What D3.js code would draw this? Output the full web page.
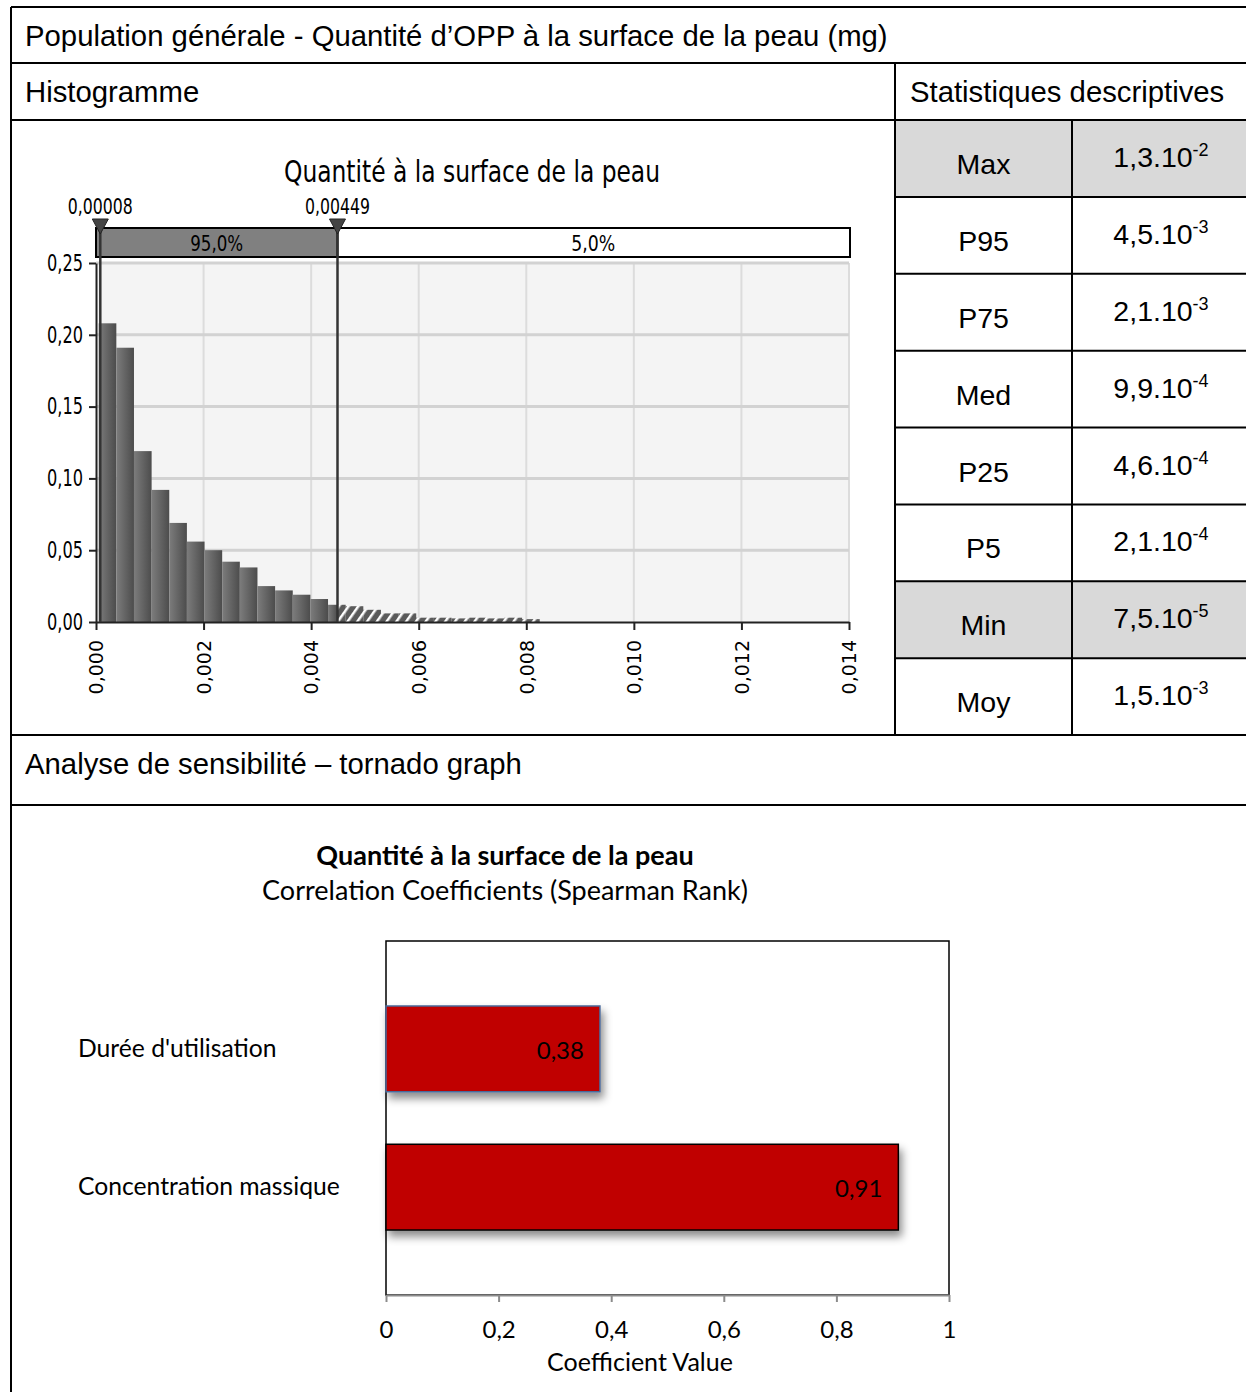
<!DOCTYPE html>
<html>
<head>
<meta charset="UTF-8">
<script src="https://cdn.jsdelivr.net/npm/d3@7"></script>
<style>
  body { margin: 0; background: #fff; }
  svg { display: block; }
  .sans { font-family: "Liberation Sans", Arial, sans-serif; }
  .narrow { font-family: "Liberation Sans Narrow", "DejaVu Sans Condensed", sans-serif; }
  .cal { font-family: Lato, "Open Sans", sans-serif; }
</style>
</head>
<body>
<svg id="chart" width="1246" height="1392"></svg>
<script>
// ---- histogram (relative frequency per bin)
var binStart = 0.00005;
var binWidth = 0.000328;
var binFreq = [0.208, 0.191, 0.119, 0.092, 0.069, 0.056, 0.050, 0.042, 0.038, 0.025,
               0.022, 0.019, 0.016, 0.012, 0.011, 0.0085, 0.006, 0.006, 0.003, 0.003,
               0.0025, 0.003, 0.0025, 0.003, 0.002];
var lowMark = 0.00008, highMark = 0.00449;
var bandLabels = ["95,0%", "5,0%"];
var histXTicks = [0, 0.002, 0.004, 0.006, 0.008, 0.010, 0.012, 0.014];
var histYTicks = [0, 0.05, 0.10, 0.15, 0.20, 0.25];

// ---- descriptive statistics
var statNames = ["Max", "P95", "P75", "Med", "P25", "P5", "Min", "Moy"];
var statMantissa = ["1,3", "4,5", "2,1", "9,9", "4,6", "2,1", "7,5", "1,5"];
var statExp = ["-2", "-3", "-3", "-4", "-4", "-4", "-5", "-3"];
var statShaded = ["Max", "Min"];

// ---- tornado
var tornadoVars = ["Durée d'utilisation", "Concentration massique"];
var tornadoCoefs = [0.38, 0.91];
var coefTicks = [0, 0.2, 0.4, 0.6, 0.8, 1];

var svg = d3.select("#chart");
var comma = function(f) { return function(d) { return d3.format(f)(d).replace(".", ","); }; };

// defs
var defs = svg.append("defs");
var grad = defs.append("linearGradient").attr("id", "barGrad")
  .attr("x1", "0").attr("x2", "1").attr("y1", "0").attr("y2", "0");
grad.append("stop").attr("offset", "0").attr("stop-color", "#7c7c7c");
grad.append("stop").attr("offset", "1").attr("stop-color", "#4c4c4c");
var pat = defs.append("pattern").attr("id", "hatch").attr("patternUnits", "userSpaceOnUse")
  .attr("width", 8).attr("height", 8).attr("patternTransform", "rotate(35)");
pat.append("rect").attr("width", 8).attr("height", 8).attr("fill", "#5a5a5a");
pat.append("rect").attr("x", 0).attr("width", 2.5).attr("height", 8).attr("fill", "#ffffff");
var shadow = defs.append("filter").attr("id", "shadow")
  .attr("x", "-10%").attr("y", "-20%").attr("width", "130%").attr("height", "160%");
shadow.append("feDropShadow").attr("dx", 3).attr("dy", 6).attr("stdDeviation", 4)
  .attr("flood-color", "#000").attr("flood-opacity", 0.45);

// ---- table frame
var statRowH = (735 - 120) / statNames.length;
statNames.forEach(function(n, i) {
  if (statShaded.indexOf(n) >= 0) {
    svg.append("rect").attr("x", 895).attr("y", 120 + i * statRowH)
      .attr("width", 351).attr("height", statRowH).attr("fill", "#d9d9d9");
  }
});
var frame = svg.append("g").attr("stroke", "#000").attr("stroke-width", 2);
[[11, 7, 1246, 7], [11, 63, 1246, 63], [11, 120, 1246, 120], [11, 735, 1246, 735],
 [11, 805, 1246, 805], [11, 7, 11, 1392], [895, 63, 895, 735], [1072, 120, 1072, 735]]
  .forEach(function(l) {
    frame.append("line").attr("x1", l[0]).attr("y1", l[1]).attr("x2", l[2]).attr("y2", l[3]);
  });
for (var i = 1; i < statNames.length; i++) {
  frame.append("line").attr("x1", 895).attr("x2", 1246)
    .attr("y1", 120 + i * statRowH).attr("y2", 120 + i * statRowH);
}

svg.append("text").attr("class", "sans").attr("x", 25).attr("y", 46).attr("font-size", 29.3)
  .text("Population générale - Quantité d’OPP à la surface de la peau (mg)");
svg.append("text").attr("class", "sans").attr("x", 25).attr("y", 102).attr("font-size", 29.3)
  .text("Histogramme");
svg.append("text").attr("class", "sans").attr("x", 910).attr("y", 102).attr("font-size", 29.3)
  .text("Statistiques descriptives");
svg.append("text").attr("class", "sans").attr("x", 25).attr("y", 774).attr("font-size", 29.3)
  .text("Analyse de sensibilité – tornado graph");

// stats
statNames.forEach(function(n, i) {
  var top = 120 + i * statRowH;
  svg.append("text").attr("class", "sans").attr("x", 983.5).attr("y", top + 54)
    .attr("text-anchor", "middle").attr("font-size", 28.5).text(n);
  var t = svg.append("text").attr("class", "sans").attr("x", 1161).attr("y", top + 47)
    .attr("text-anchor", "middle").attr("font-size", 28.5);
  t.append("tspan").text(statMantissa[i] + ".10");
  t.append("tspan").attr("dy", -11).attr("font-size", 18).text(statExp[i]);
});

// ---- histogram
var hx = d3.scaleLinear().domain([0, 0.014]).range([96, 849]);
var hy = d3.scaleLinear().domain([0, 0.25]).range([622, 263]);
var hg = svg.append("g");

hg.append("text").attr("class", "narrow").attr("x", 472).attr("y", 182)
  .attr("text-anchor", "middle").attr("font-size", 31)
  .attr("textLength", 376).attr("lengthAdjust", "spacingAndGlyphs")
  .text("Quantité à la surface de la peau");

hg.append("rect").attr("x", hx(0)).attr("y", hy(0.25)).attr("width", hx(0.014) - hx(0))
  .attr("height", hy(0) - hy(0.25)).attr("fill", "#f4f4f4");
hg.selectAll(".vgrid").data(histXTicks.slice(1)).enter().append("line")
  .attr("x1", hx).attr("x2", hx).attr("y1", hy(0.25)).attr("y2", hy(0))
  .attr("stroke", "#dcdcdc").attr("stroke-width", 2);
hg.selectAll(".hgrid").data(histYTicks.slice(1)).enter().append("line")
  .attr("x1", hx(0)).attr("x2", hx(0.014)).attr("y1", hy).attr("y2", hy)
  .attr("stroke", "#d2d2d2").attr("stroke-width", 3);

// bar segments: solid inside the 95% band, hatched beyond it
var segs = [];
binFreq.forEach(function(f, i) {
  var x0 = binStart + i * binWidth, x1 = x0 + binWidth;
  if (x1 <= highMark) segs.push({x0: x0, x1: x1, f: f, h: false});
  else if (x0 >= highMark) segs.push({x0: x0, x1: x1, f: f, h: true});
  else {
    segs.push({x0: x0, x1: highMark, f: f, h: false});
    segs.push({x0: highMark, x1: x1, f: f, h: true});
  }
});
hg.selectAll(".bar").data(segs).enter().append("rect")
  .attr("x", function(d) { return hx(d.x0); })
  .attr("width", function(d) { return hx(d.x1) - hx(d.x0); })
  .attr("y", function(d) { return hy(d.f); })
  .attr("height", function(d) { return hy(0) - hy(d.f); })
  .attr("fill", function(d) { return d.h ? "url(#hatch)" : "url(#barGrad)"; });

var yAx = hg.append("g").attr("transform", "translate(" + hx(0) + ",0)")
  .call(d3.axisLeft(hy).tickValues(histYTicks).tickFormat(comma(".2f")).tickSize(7).tickSizeOuter(0));
yAx.selectAll("text").attr("class", "narrow").attr("font-size", 23).attr("fill", "#000").attr("x", -13)
  .attr("textLength", 36).attr("lengthAdjust", "spacingAndGlyphs");
yAx.selectAll("line, path").attr("stroke", "#222").attr("stroke-width", 2);

var xAx = hg.append("g").attr("transform", "translate(0," + hy(0) + ")")
  .call(d3.axisBottom(hx).tickValues(histXTicks).tickFormat(comma(".3f")).tickSize(8).tickSizeOuter(0));
xAx.selectAll("text").attr("font-family", "DejaVu Sans, Verdana, sans-serif").attr("font-size", 19)
  .attr("fill", "#000").attr("transform", "rotate(-90)").attr("text-anchor", "end")
  .attr("x", -18).attr("y", 0).attr("dy", "0.36em");
xAx.selectAll("line, path").attr("stroke", "#222").attr("stroke-width", 2);

// 95% band above plot
var bandTop = 228, bandBot = 257;
hg.append("rect").attr("x", hx(0)).attr("y", bandTop).attr("width", hx(highMark) - hx(0))
  .attr("height", bandBot - bandTop).attr("fill", "#808080");
hg.append("rect").attr("x", hx(0)).attr("y", bandTop).attr("width", hx(0.014) - hx(0) + 1)
  .attr("height", bandBot - bandTop).attr("fill", "none").attr("stroke", "#000").attr("stroke-width", 2);
hg.append("line").attr("x1", hx(highMark)).attr("x2", hx(highMark)).attr("y1", bandTop).attr("y2", bandBot)
  .attr("stroke", "#000").attr("stroke-width", 2);
hg.append("text").attr("class", "narrow").attr("x", (hx(0) + hx(highMark)) / 2).attr("y", 251)
  .attr("text-anchor", "middle").attr("font-size", 22)
  .attr("textLength", 53).attr("lengthAdjust", "spacingAndGlyphs").text(bandLabels[0]);
hg.append("text").attr("class", "narrow").attr("x", (hx(highMark) + hx(0.014)) / 2).attr("y", 251)
  .attr("text-anchor", "middle").attr("font-size", 22)
  .attr("textLength", 44).attr("lengthAdjust", "spacingAndGlyphs").text(bandLabels[1]);

[lowMark, highMark].forEach(function(m) {
  hg.append("line").attr("x1", hx(m)).attr("x2", hx(m)).attr("y1", bandTop).attr("y2", hy(0))
    .attr("stroke", "#333").attr("stroke-width", 2.5);
  hg.append("path").attr("d", "M" + (hx(m) - 8) + ",219 L" + (hx(m) + 8) + ",219 L" + hx(m) + ",234 Z")
    .attr("fill", "#444").attr("stroke", "#222").attr("stroke-width", 1);
  hg.append("text").attr("class", "narrow").attr("x", hx(m)).attr("y", 214)
    .attr("text-anchor", "middle").attr("font-size", 22)
    .attr("textLength", 65).attr("lengthAdjust", "spacingAndGlyphs").text(comma(".5f")(m));
});

// ---- tornado
var tx = d3.scaleLinear().domain([0, 1]).range([386, 949]);
var ty = d3.scaleBand().domain(tornadoVars).range([941, 1295]).paddingInner(0.38).paddingOuter(0.47);
var tg = svg.append("g");

tg.append("text").attr("class", "cal").attr("x", 505).attr("y", 865).attr("text-anchor", "middle")
  .attr("font-size", 27).attr("font-weight", "bold").text("Quantité à la surface de la peau");
tg.append("text").attr("class", "cal").attr("x", 505).attr("y", 900).attr("text-anchor", "middle")
  .attr("font-size", 27).text("Correlation Coefficients (Spearman Rank)");

tg.append("rect").attr("x", tx(0)).attr("y", 941).attr("width", tx(1) - tx(0)).attr("height", 1295 - 941)
  .attr("fill", "#fff").attr("stroke", "#000").attr("stroke-width", 1.5);

tg.selectAll(".tbar").data(tornadoCoefs).enter().append("rect")
  .attr("x", tx(0))
  .attr("y", function(d, i) { return ty(tornadoVars[i]); })
  .attr("width", function(d) { return tx(d) - tx(0); })
  .attr("height", ty.bandwidth())
  .attr("fill", "#c00000")
  .attr("stroke", function(d, i) { return i === 0 ? "#4a6a9a" : "#000"; })
  .attr("stroke-width", 1.5)
  .attr("filter", "url(#shadow)");

tg.selectAll(".tval").data(tornadoCoefs).enter().append("text").attr("class", "cal")
  .attr("x", function(d) { return tx(d) - 16; })
  .attr("y", function(d, i) { return ty(tornadoVars[i]) + ty.bandwidth() / 2 + 10; })
  .attr("text-anchor", "end").attr("font-size", 24)
  .text(function(d) { return comma(".2f")(d); });

tg.selectAll(".tcat").data(tornadoVars).enter().append("text").attr("class", "cal")
  .attr("x", 78).attr("y", function(d) { return ty(d) + ty.bandwidth() / 2 + 8; })
  .attr("font-size", 24.7).text(function(d) { return d; });

var cAx = tg.append("g").attr("transform", "translate(0,1295)")
  .call(d3.axisBottom(tx).tickValues(coefTicks).tickFormat(function(d) { return String(d).replace(".", ","); })
    .tickSize(7).tickSizeOuter(0));
cAx.selectAll("line, path").attr("stroke", "#8c8c8c").attr("stroke-width", 2);
cAx.selectAll("text").attr("class", "cal").attr("font-size", 24).attr("fill", "#000").attr("y", 26);

tg.append("text").attr("class", "cal").attr("x", 640).attr("y", 1371).attr("text-anchor", "middle")
  .attr("font-size", 25).text("Coefficient Value");
</script>
</body>
</html>
